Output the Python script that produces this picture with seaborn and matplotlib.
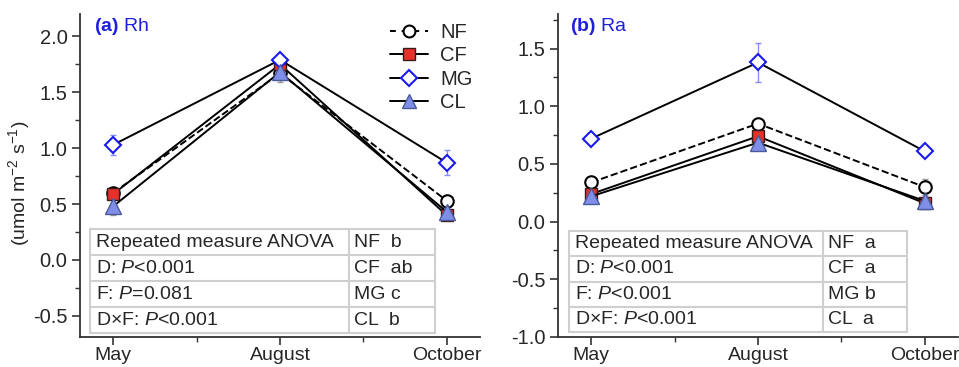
import numpy as np
import pandas as pd
import matplotlib
matplotlib.use("Agg")
import matplotlib.pyplot as plt
from matplotlib.ticker import MultipleLocator, FixedLocator
from matplotlib.lines import Line2D
import seaborn as sns

# ---------------- data ----------------
months = ["May", "August", "October"]
groups = ["NF", "CF", "MG", "CL"]

rh_NF = [0.60, 1.67, 0.53]
rh_CF = [0.59, 1.75, 0.40]
rh_MG = [1.03, 1.79, 0.87]
rh_CL = [0.48, 1.68, 0.43]
rh_NF_err = [0.04, 0.06, 0.05]
rh_CF_err = [0.04, 0.05, 0.04]
rh_MG_err = [0.09, 0.03, 0.11]
rh_CL_err = [0.08, 0.09, 0.04]

ra_NF = [0.34, 0.85, 0.30]
ra_CF = [0.24, 0.74, 0.16]
ra_MG = [0.72, 1.38, 0.61]
ra_CL = [0.22, 0.685, 0.18]
ra_NF_err = [0.03, 0.05, 0.07]
ra_CF_err = [0.03, 0.05, 0.03]
ra_MG_err = [0.02, 0.17, 0.02]
ra_CL_err = [0.04, 0.06, 0.03]

rh_table_left = ["Repeated measure ANOVA", "D: $\\mathit{P}$<0.001",
                 "F: $\\mathit{P}$=0.081", "D×F: $\\mathit{P}$<0.001"]
rh_table_right = ["NF  b", "CF  ab", "MG c", "CL  b"]
ra_table_left = ["Repeated measure ANOVA", "D: $\\mathit{P}$<0.001",
                 "F: $\\mathit{P}$<0.001", "D×F: $\\mathit{P}$<0.001"]
ra_table_right = ["NF  a", "CF  a", "MG b", "CL  a"]

# ---------------- style ----------------
sns.set_style("ticks")
plt.rcParams['font.family'] = ['Liberation Sans', 'DejaVu Sans']
plt.rcParams['mathtext.fontset'] = 'custom'
plt.rcParams['mathtext.rm'] = 'Liberation Sans'
plt.rcParams['mathtext.it'] = 'Liberation Sans:italic'
plt.rcParams['mathtext.bf'] = 'Liberation Sans:bold'

styles = {
    "NF": dict(marker="o", ms=9, mfc="white", mec="black", mew=1.5, ls="--"),
    "CF": dict(marker="s", ms=8.5, mfc="#e8302a", mec="#3a1a1a", mew=1.0, ls="-"),
    "MG": dict(marker="D", ms=8.5, mfc="white", mec="#1a1aee", mew=1.5, ls="-"),
    "CL": dict(marker="^", ms=11, mfc="#7f8fe8", mec="#4a5a9a", mew=1.0, ls="-"),
}
err_colors = {"NF": "#9a9a9a", "CF": "#9a9a9a", "MG": "#8a8aff", "CL": "#9a9a9a"}

fig = plt.figure(figsize=(9.59, 3.67), dpi=100)
fig.patch.set_facecolor("white")
axL = fig.add_axes([80/959, 30/367, 400/959, 323/367])
axR = fig.add_axes([558/959, 30/367, 400/959, 323/367])

x = np.arange(len(months))

def draw(ax, vals, errs, ylim, yticks, title, tleft, tright, tbox, legend):
    for g in groups:
        df = pd.DataFrame({"x": x, "y": vals[g]})
        st = styles[g]
        ax.errorbar(x, vals[g], yerr=errs[g], fmt="none", ecolor=err_colors[g],
                    elinewidth=1.0, capsize=2.5, capthick=1.0, zorder=1)
        sns.lineplot(data=df, x="x", y="y", ax=ax, color="black", lw=1.4,
                     linestyle=st["ls"], marker=st["marker"], markersize=st["ms"],
                     markerfacecolor=st["mfc"], markeredgecolor=st["mec"],
                     markeredgewidth=st["mew"], errorbar=None, sort=False,
                     label=g, legend=False, zorder=3,
                     dashes=False if st["ls"] == "-" else (4, 3))
    ax.set_xlim(-0.2, 2.2)
    ax.set_ylim(*ylim)
    ax.set_xticks(x)
    ax.set_xticklabels(months, fontsize=14)
    ax.xaxis.set_minor_locator(FixedLocator([0.5, 1.5]))
    ax.set_yticks(yticks)
    ax.set_yticklabels([f"{t:.1f}" for t in yticks], fontsize=14.5)
    ax.yaxis.set_minor_locator(MultipleLocator(0.25))
    ax.tick_params(which="major", direction="out", length=6, width=1.2, color="#333333", pad=3)
    ax.tick_params(which="minor", direction="out", length=3.5, width=1.0, color="#333333")
    ax.tick_params(axis="x", which="major", pad=1.5)
    for s in ["top", "right"]:
        ax.spines[s].set_visible(False)
    for s in ["left", "bottom"]:
        ax.spines[s].set_linewidth(1.3)
        ax.spines[s].set_color("#333333")
    ax.set_xlabel("")
    ax.set_ylabel("")
    ax.text(tbox[4], 0.962, title, transform=ax.transAxes, color="#1f1fe0",
            fontsize=14, ha="left", va="center")
    # table
    tx0, tx1, txd, ty0, ty1 = tbox[5:]
    nrow = 4
    rowh = (ty1 - ty0) / nrow
    lc = "#cfcfcf"
    for i in range(nrow + 1):
        yy = ty0 + i * rowh
        ax.add_line(Line2D([tx0, tx1], [yy, yy], transform=ax.transAxes, color=lc, lw=1.5, zorder=4))
    for xx in (tx0, txd, tx1):
        ax.add_line(Line2D([xx, xx], [ty0, ty1], transform=ax.transAxes, color=lc, lw=1.5, zorder=4))
    for i in range(nrow):
        yc = ty1 - (i + 0.5) * rowh
        ax.text(tx0 + 0.014, yc, tleft[i], transform=ax.transAxes, fontsize=14,
                ha="left", va="center", zorder=5)
        ax.text(txd + 0.012, yc, tright[i], transform=ax.transAxes, fontsize=14,
                ha="left", va="center", zorder=5)
    if legend:
        handles = []
        for g in groups:
            st = styles[g]
            h = Line2D([], [], color="black", lw=1.4,
                       linestyle="-" if st["ls"] == "-" else (0, (3, 3)),
                       marker=st["marker"], markersize=st["ms"] * 0.95,
                       markerfacecolor=st["mfc"], markeredgecolor=st["mec"],
                       markeredgewidth=st["mew"])
            handles.append(h)
        ax.legend(handles, groups, loc="upper left", bbox_to_anchor=(0.775, 0.972),
                  frameon=False, fontsize=14.5, handlelength=1.9, handletextpad=0.6,
                  labelspacing=0.22, borderpad=0.0, borderaxespad=0.0)

rh_vals = {"NF": rh_NF, "CF": rh_CF, "MG": rh_MG, "CL": rh_CL}
rh_errs = {"NF": rh_NF_err, "CF": rh_CF_err, "MG": rh_MG_err, "CL": rh_CL_err}
ra_vals = {"NF": ra_NF, "CF": ra_CF, "MG": ra_MG, "CL": ra_CL}
ra_errs = {"NF": ra_NF_err, "CF": ra_CF_err, "MG": ra_MG_err, "CL": ra_CL_err}

draw(axL, rh_vals, rh_errs, (-0.69, 2.2), [-0.5, 0.0, 0.5, 1.0, 1.5, 2.0],
     "$\\mathbf{(a)}$ Rh", rh_table_left, rh_table_right,
     (0, 0, 0, 0, 0.035, 0.025, 0.8875, 0.6725, 0.0124, 0.334), True)
draw(axR, ra_vals, ra_errs, (-1.0, 1.8), [-1.0, -0.5, 0.0, 0.5, 1.0, 1.5],
     "$\\mathbf{(b)}$ Ra", ra_table_left, ra_table_right,
     (0, 0, 0, 0, 0.03, 0.0275, 0.8725, 0.6625, 0.0155, 0.328), False)

axL.set_ylabel("(umol m$^{-2}$ s$^{-1}$)", fontsize=14)
axL.yaxis.set_label_coords(-0.12, 0.477)

fig.savefig("out.png", dpi=100, facecolor="white")
